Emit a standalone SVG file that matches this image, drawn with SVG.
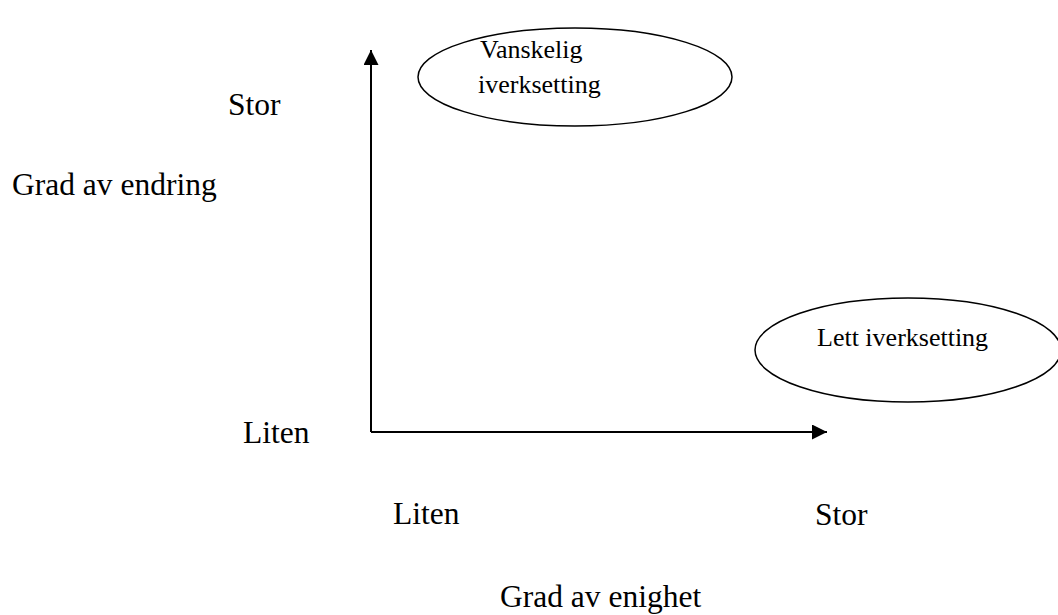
<svg xmlns="http://www.w3.org/2000/svg" width="1058" height="615" viewBox="0 0 1058 615">
<style>
.t{font-family:"Liberation Serif",serif;font-size:31.5px;fill:#000}
.s{font-family:"Liberation Serif",serif;font-size:26px;fill:#000}
.e{fill:none;stroke:#000;stroke-width:1.5}
.a{stroke:#000;stroke-width:2;fill:none}
</style>
<defs>
<marker id="ah" viewBox="0 0 10 10" refX="10" refY="5" markerWidth="15" markerHeight="15" markerUnits="userSpaceOnUse" orient="auto">
<path d="M0,0 L10,5 L0,10 z" fill="#000"/>
</marker>
</defs>
<rect width="1058" height="615" fill="#fff"/>
<g id="connectors">
<path class="a" d="M371,432 L371,50" marker-end="url(#ah)"/>
<path class="a" d="M371,432 L827,432" marker-end="url(#ah)"/>
</g>
<g id="node-vanskelig">
<ellipse class="e" cx="575" cy="77" rx="157" ry="49"/>
<text class="s" x="480" y="58">Vanskelig</text>
<text class="s" x="478" y="93">iverksetting</text>
</g>
<g id="node-lett">
<ellipse class="e" cx="908" cy="350" rx="153" ry="52"/>
<text class="s" x="817" y="346">Lett iverksetting</text>
</g>
<g id="labels">
<text class="t" x="228" y="115">Stor</text>
<text class="t" x="12" y="195">Grad av endring</text>
<text class="t" x="243" y="443">Liten</text>
<text class="t" x="393" y="524">Liten</text>
<text class="t" x="815" y="525">Stor</text>
<text class="t" x="500" y="607">Grad av enighet</text>
</g>
</svg>
